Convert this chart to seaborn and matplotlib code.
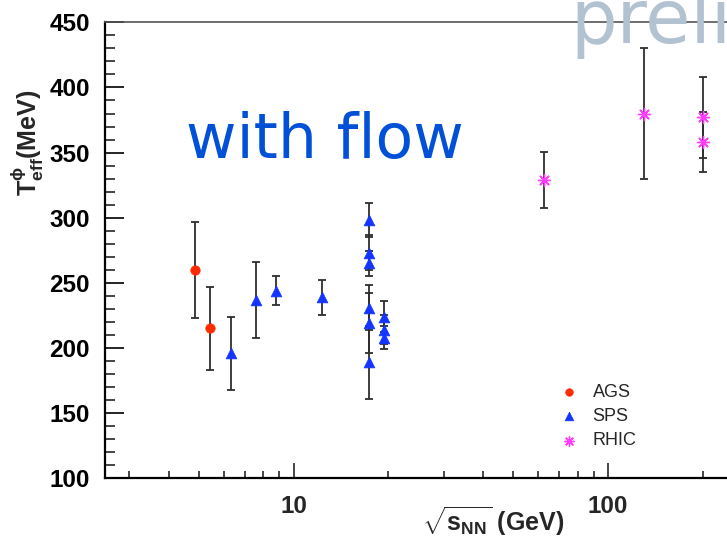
import numpy as np
import pandas as pd
import matplotlib
matplotlib.use("Agg")
import matplotlib.pyplot as plt
from matplotlib.ticker import FixedLocator, FixedFormatter, MultipleLocator, NullFormatter
import seaborn as sns

# ---------------- data ----------------
ags_energy = [4.87, 5.4]
ags_teff = [260, 215]
ags_err = [37, 32]

sps_energy = [6.3, 7.6, 8.8, 12.3, 17.3, 17.3, 17.3, 17.3, 17.3, 17.3, 19.4, 19.4, 19.4]
sps_teff = [196, 237, 244, 239, 298, 273, 265, 231, 219, 189, 224, 214, 208]
sps_err = [28, 29, 11, 13.5, 13, 13.5, 9.5, 17, 23, 28, 12, 11, 9]

rhic_energy = [62.4, 130, 200, 200]
rhic_teff = [329, 380, 377, 358]
rhic_err = [21.5, 50, 31, 23]

groups = ["AGS", "SPS", "RHIC"]
x_major = [10, 100]
x_major_labels = ["10", "100"]
y_ticks = [100, 150, 200, 250, 300, 350, 400, 450]

# ---------------- style ----------------
sns.set_style("white")
plt.rcParams["font.family"] = ["Liberation Sans", "DejaVu Sans"]
plt.rcParams["mathtext.fontset"] = "custom"
plt.rcParams["mathtext.rm"] = "Liberation Sans:bold"
plt.rcParams["mathtext.bf"] = "Liberation Sans:bold"
plt.rcParams["mathtext.it"] = "Liberation Sans:bold"

W, H = 727, 541
fig = plt.figure(figsize=(W / 100, H / 100), dpi=100)
left_px, right_px, top_px, bottom_px = 105.3, 727, 22.3, 478.3
ax = fig.add_axes([left_px / W, 1 - bottom_px / H,
                   (right_px - left_px) / W, (bottom_px - top_px) / H])

df = pd.concat([
    pd.DataFrame({"energy": ags_energy, "teff": ags_teff, "err": ags_err, "group": "AGS"}),
    pd.DataFrame({"energy": sps_energy, "teff": sps_teff, "err": sps_err, "group": "SPS"}),
    pd.DataFrame({"energy": rhic_energy, "teff": rhic_teff, "err": rhic_err, "group": "RHIC"}),
], ignore_index=True)

colors = {"AGS": "#ff2a00", "SPS": "#1434ff", "RHIC": "#ff3cff"}
markers = {"AGS": "o", "SPS": "^", "RHIC": (8, 2, 0)}
sizes = {"AGS": 46, "SPS": 60, "RHIC": 75}

for g in groups:
    d = df[df["group"] == g]
    ax.errorbar(d["energy"], d["teff"], yerr=d["err"], fmt="none",
                ecolor="#2e2e2e", elinewidth=1.3, capsize=3, capthick=1.3, zorder=2)
for g in groups:
    d = df[df["group"] == g]
    if g == "RHIC":
        sns.scatterplot(data=d, x="energy", y="teff", ax=ax, marker=markers[g],
                        s=sizes[g], color=colors[g], linewidth=1.0, label=g, zorder=3)
    else:
        sns.scatterplot(data=d, x="energy", y="teff", ax=ax, marker=markers[g],
                        s=sizes[g], color=colors[g], edgecolor=colors[g],
                        linewidth=0.5, label=g, zorder=3)

ax.set_xscale("log")
ax.set_xlim(10 ** 0.4006, 10 ** 2.3786)
ax.set_ylim(100, 450)

ax.xaxis.set_major_locator(FixedLocator(x_major))
ax.xaxis.set_major_formatter(FixedFormatter(x_major_labels))
minor_x = [3, 4, 5, 6, 7, 8, 9, 20, 30, 40, 50, 60, 70, 80, 90, 200]
ax.xaxis.set_minor_locator(FixedLocator(minor_x))
ax.xaxis.set_minor_formatter(NullFormatter())
ax.yaxis.set_major_locator(FixedLocator(y_ticks))
ax.yaxis.set_minor_locator(MultipleLocator(10))

ax.tick_params(axis="y", which="major", direction="in", length=13.7, width=1.2,
               left=True, right=False, pad=11, labelsize=17.5, colors="black")
ax.tick_params(axis="y", which="minor", direction="in", length=7.2, width=1.2,
               left=True, right=False)
ax.tick_params(axis="x", which="major", direction="in", length=10.8, width=1.2,
               bottom=True, top=False, pad=12, labelsize=17.5)
ax.tick_params(axis="x", which="minor", direction="in", length=5.2, width=1.2,
               bottom=True, top=False)
for lab in ax.get_xticklabels() + ax.get_yticklabels():
    lab.set_fontweight("bold")

ax.spines["right"].set_visible(False)
ax.spines["top"].set_color("#555555")
ax.spines["top"].set_linewidth(1.2)
for s in ("left", "bottom"):
    ax.spines[s].set_color("black")
    ax.spines[s].set_linewidth(1.6)

ax.set_xlabel("")
ax.set_ylabel("")

# axis titles
fig.text(27 / W, 1 - 143 / H, r"$\mathbf{T}_{\mathbf{eff}}^{\mathbf{\phi}}$(MeV)",
         rotation=90, ha="center", va="center", fontsize=18, fontweight="bold")
fig.text(564 / W, 1 - 521 / H, r"$\sqrt{\mathbf{s}_{\mathbf{NN}}}$ (GeV)",
         ha="right", va="center", fontsize=18, fontweight="bold")

# legend
leg = ax.legend(loc="upper left", bbox_to_anchor=(560 / W, 1 - 384 / H),
                bbox_transform=fig.transFigure, frameon=False, fontsize=13,
                handlelength=1.0, handletextpad=0.8, labelspacing=0.4,
                borderpad=0, borderaxespad=0, markerscale=0.8)

# annotations
fig.text(186 / W, 1 - 158 / H, "with flow", fontsize=44.5, color="#0050d8",
         family="DejaVu Sans", va="baseline", ha="left")
fig.text(570 / W, 1 - 43 / H, "preliminary", fontsize=53, color="#b3c2d0",
         family="DejaVu Sans", va="baseline", ha="left")

fig.savefig("out.png", dpi=100)
